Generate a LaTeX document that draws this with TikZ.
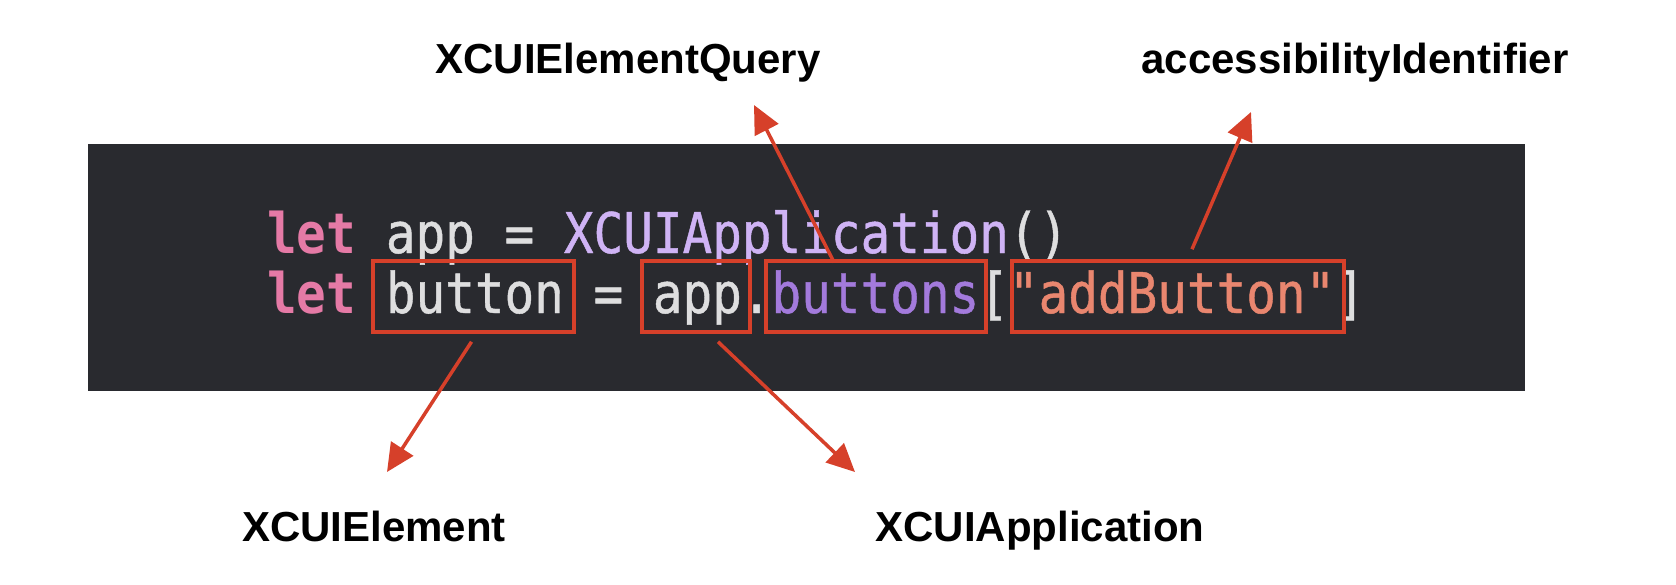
\documentclass[tikz,border=0pt]{standalone}
\usepackage{fontspec}
\usetikzlibrary{arrows.meta}
\newfontfamily\codefont{DejaVu Sans Mono}[FakeStretch=0.88, UprightFeatures={FakeBold=0.8}]
\newfontfamily\labelfont{Liberation Sans}
\definecolor{codebg}{HTML}{292A2F}
\definecolor{kw}{HTML}{E57AA6}
\definecolor{plain}{HTML}{DEDEDF}
\definecolor{cls}{HTML}{CFB3F5}
\definecolor{prop}{HTML}{A37ADC}
\definecolor{str}{HTML}{E9866F}
\definecolor{mark}{HTML}{D6402A}
\tikzset{
  code/.style={inner sep=0pt, text=plain, font=\codefont\fontsize{56}{60}\selectfont},
  redbox/.style={draw=mark, line width=3.5pt, inner sep=0pt},
  lbl/.style={inner sep=0pt, text=black, font=\labelfont\bfseries\fontsize{42}{46}\selectfont},
  pointer/.style={draw=mark, line width=3.5pt, -{Triangle[length=28pt,width=26pt]}}
}
\begin{document}
\begin{tikzpicture}[x=1pt,y=-1pt]
\useasboundingbox (0,0) rectangle (1676,584);
\fill[white] (0,0) rectangle (1676,584);
\fill[codebg] (88,144) rectangle (1525,391);
% code
\node[code, anchor=base west] (line1) at (267,253) {{\bfseries\color{kw}let} app = {\color{cls}XCUIApplication}()};
\node[code, anchor=base west] (line2) at (267,313) {{\bfseries\color{kw}let} button = app.{\color{prop}buttons}[{\color{str}"addButton"}]};
% highlight boxes
\node[redbox, minimum width=201pt, minimum height=71pt] (bbutton) at (473.5,296.5) {};
\node[redbox, minimum width=108pt, minimum height=71pt] (bapp) at (696,296.5) {};
\node[redbox, minimum width=220pt, minimum height=71pt] (bbuttons) at (876,296.5) {};
\node[redbox, minimum width=332pt, minimum height=71pt] (bstr) at (1178,296.5) {};
% labels
\node[lbl, anchor=base] (lquery) at (628,73) {XCUIElementQuery};
\node[lbl, anchor=base] (lacc) at (1355,73) {accessibilityIdentifier};
\node[lbl, anchor=base] (lelem) at (374,541) {XCUIElement};
\node[lbl, anchor=base] (lappl) at (1040,541) {XCUIApplication};
% arrow tips
\coordinate (tquery) at (754,105);
\coordinate (tacc) at (1251,112);
\coordinate (telem) at (387,472);
\coordinate (tappl) at (855,472);
% arrows
\draw[pointer] ([xshift=-2pt,yshift=-8pt]bbutton.south) -- (telem);
\draw[pointer] ([xshift=22pt,yshift=-8pt]bapp.south) -- (tappl);
\draw[pointer] ([xshift=-42pt,yshift=-3pt]bbuttons.north) -- (tquery);
\draw[pointer] ([xshift=14pt,yshift=10pt]bstr.north) -- (tacc);
\end{tikzpicture}
\end{document}
